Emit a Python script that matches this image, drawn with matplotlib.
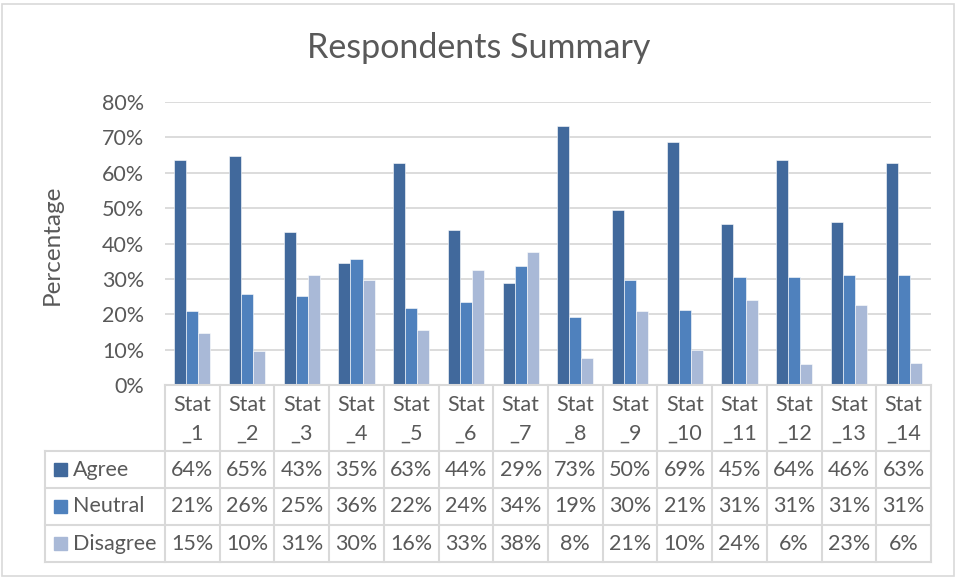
import matplotlib
matplotlib.use("Agg")
import matplotlib.pyplot as plt
from matplotlib.patches import Rectangle
from matplotlib.lines import Line2D
import matplotlib.transforms as mtransforms
import numpy as np

categories = ["Stat_1", "Stat_2", "Stat_3", "Stat_4", "Stat_5", "Stat_6", "Stat_7",
              "Stat_8", "Stat_9", "Stat_10", "Stat_11", "Stat_12", "Stat_13", "Stat_14"]
series_names = ["Agree", "Neutral", "Disagree"]
agree = [63.5, 64.6, 43.3, 34.6, 62.8, 43.8, 28.8, 73.1, 49.6, 68.8, 45.4, 63.6, 46.2, 62.7]
neutral = [21.0, 25.6, 25.2, 35.7, 21.7, 23.6, 33.6, 19.2, 29.6, 21.2, 30.6, 30.6, 31.0, 31.0]
disagree = [14.8, 9.7, 31.1, 29.6, 15.6, 32.6, 37.7, 7.7, 20.8, 10.0, 24.0, 5.8, 22.7, 6.3]
yticks = [0, 10, 20, 30, 40, 50, 60, 70, 80]

colors = ["#41699C", "#4F81BD", "#A9B9D7"]
text_color = "#595959"
grid_color = "#D9D9D9"

plt.rcParams['font.family'] = ['Lato', 'DejaVu Sans']

W, H = 958, 579
fig = plt.figure(figsize=(W / 100, H / 100), dpi=100)

# chart border
fig.patches.append(Rectangle((2 / W, 3 / H), 952 / W, 572 / H, transform=fig.transFigure,
                             fill=False, edgecolor=grid_color, linewidth=1.2))

x0, x1 = 165, 931
y_top, y_base = 102, 385
ax = fig.add_axes([x0 / W, 1 - y_base / H, (x1 - x0) / W, (y_base - y_top) / H])

n = len(categories)
x = np.arange(n)
bw = 0.22
for k, (vals, col) in enumerate(zip([agree, neutral, disagree], colors)):
    ax.bar(x + (k - 1) * bw, vals, width=bw, color=col, edgecolor="white",
           linewidth=0.4, zorder=3)

ax.set_xlim(-0.5, n - 0.5)
ax.set_ylim(0, 80)
ax.set_yticks(yticks)
ax.set_yticklabels([f"{t}%" for t in yticks], fontsize=15.5, color=text_color)
ax.tick_params(axis='y', length=0, pad=15)
ax.set_xticks([])
ax.grid(axis='y', color=grid_color, linewidth=1.3, zorder=0)
for s in ax.spines.values():
    s.set_visible(False)

fig.text(52 / W, 1 - 245 / H, "Percentage", rotation=90, ha="center", va="center",
         fontsize=17.5, color=text_color)

fig.text(0.5, 1 - 48 / H, "Respondents Summary", ha="center", va="center",
         fontsize=24.5, color=text_color)

# data table below axes: x in data coords, y in pixel-based figure coords
trans = mtransforms.blended_transform_factory(ax.transData, fig.transFigure)
def fy(py):
    return 1 - py / H

row_edges = [451, 488, 525, 562]
lw = 1.5
fs = 15.5
for b in np.arange(n + 1) - 0.5:
    fig.lines.append(Line2D([b, b], [fy(y_base), fy(562)], transform=trans,
                            color=grid_color, linewidth=lw))
left_px = 45
for ry in row_edges:
    fig.lines.append(Line2D([left_px / W, x1 / W], [fy(ry), fy(ry)], transform=fig.transFigure,
                            color=grid_color, linewidth=lw))
fig.lines.append(Line2D([left_px / W, left_px / W], [fy(451), fy(562)], transform=fig.transFigure,
                        color=grid_color, linewidth=lw))
fig.lines.append(Line2D([x0 / W, x1 / W], [fy(y_base), fy(y_base)], transform=fig.transFigure,
                        color=grid_color, linewidth=lw))

for i, c in enumerate(categories):
    a, b = c.split("_")
    fig.text(i, fy(405), a, transform=trans, ha="center", va="center",
             fontsize=fs, color=text_color)
    fig.text(i, fy(434), "_" + b, transform=trans, ha="center", va="center",
             fontsize=fs, color=text_color)

for r, (name, vals, col) in enumerate(zip(series_names, [agree, neutral, disagree], colors)):
    yc = (row_edges[r] + row_edges[r + 1]) / 2
    fig.patches.append(Rectangle((54 / W, fy(yc + 6.5)), 13 / W, 13 / H,
                                 transform=fig.transFigure, color=col))
    fig.text(73 / W, fy(yc), name, ha="left", va="center", fontsize=fs, color=text_color)
    for i, v in enumerate(vals):
        fig.text(i, fy(yc), f"{int(round(v))}%", transform=trans, ha="center", va="center",
                 fontsize=fs, color=text_color)

fig.savefig("out.png", dpi=100)
